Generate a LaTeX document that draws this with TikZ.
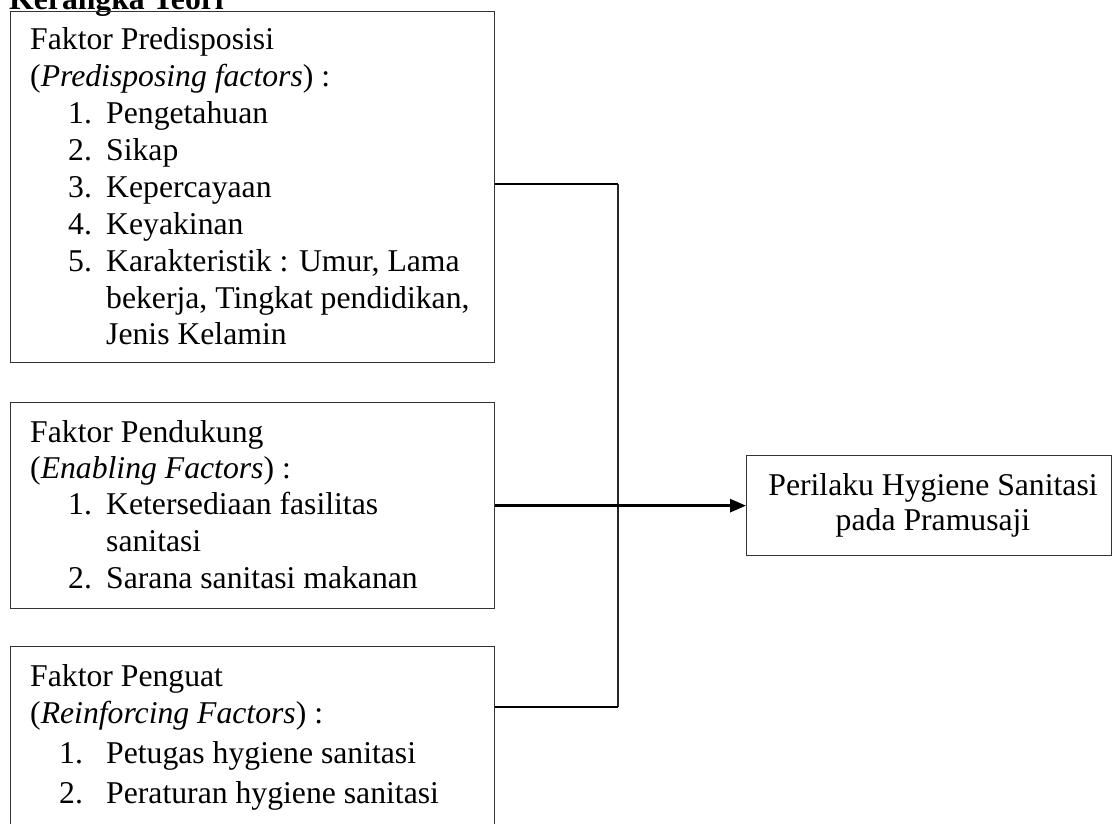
\documentclass[tikz,border=0pt]{standalone}
\usepackage{fontspec}
\setmainfont{Liberation Serif}
\usetikzlibrary{arrows.meta}
\tikzset{
  box/.style={draw=black!80, line width=1.3pt, inner sep=0pt, anchor=north west},
  txt/.style={anchor=base west, inner sep=0pt, font=\fontsize{31.7}{37}\selectfont},
  ctxt/.style={anchor=base, inner sep=0pt, font=\fontsize{31.7}{37}\selectfont},
  conn/.style={draw=black, line width=2.8pt},
  vconn/.style={draw=black!85, line width=1.8pt},
}
\begin{document}
\begin{tikzpicture}[x=1pt,y=-1pt]
\useasboundingbox (0,0) rectangle (1112,823);
\clip (0,0) rectangle (1112,823);
% title
\node[txt, font=\fontsize{31.7}{37}\selectfont\bfseries] (title) at (9,9) {Kerangka Teori};
% boxes
\node[box, minimum width=484pt, minimum height=351pt] (b1) at (10,11) {};
\node[box, minimum width=484pt, minimum height=206pt] (b2) at (10,402) {};
\node[box, minimum width=484pt, minimum height=200pt] (b3) at (10,646) {};
\node[box, minimum width=365pt, minimum height=100pt] (out) at (746,455) {};
% box 1 text
\node[txt] (t11) at (30,49) {Faktor Predisposisi};
\node[txt] (t12) at (30,86) {(\textit{Predisposing factors}) :};
\node[txt] (n13) at (68,123) {1.};
\node[txt] (t13) at (106,123) {Pengetahuan};
\node[txt] (n14) at (68,160) {2.};
\node[txt] (t14) at (106,160) {Sikap};
\node[txt] (n15) at (68,197) {3.};
\node[txt] (t15) at (106,197) {Kepercayaan};
\node[txt] (n16) at (68,234) {4.};
\node[txt] (t16) at (106,234) {Keyakinan};
\node[txt] (n17) at (68,271) {5.};
\node[txt] (t17) at (106,271) {Karakteristik : Umur, Lama};
\node[txt] (t18) at (106,308) {bekerja, Tingkat pendidikan,};
\node[txt] (t19) at (106,344) {Jenis Kelamin};
% box 2 text
\node[txt] (t21) at (30,442) {Faktor Pendukung};
\node[txt] (t22) at (30,478) {(\textit{Enabling Factors}) :};
\node[txt] (n23) at (68,514) {1.};
\node[txt] (t23) at (106,514) {Ketersediaan fasilitas};
\node[txt] (t24) at (106,551) {sanitasi};
\node[txt] (n25) at (68,588) {2.};
\node[txt] (t25) at (106,588) {Sarana sanitasi makanan};
% box 3 text
\node[txt] (t31) at (30,686) {Faktor Penguat};
\node[txt] (t32) at (30,723) {(\textit{Reinforcing Factors}) :};
\node[txt] (n33) at (59,763) {1.};
\node[txt] (t33) at (106,763) {Petugas hygiene sanitasi};
\node[txt] (n34) at (59,803) {2.};
\node[txt] (t34) at (106,803) {Peraturan hygiene sanitasi};
% output text
\node[ctxt] (o1) at (933,495) {Perilaku Hygiene Sanitasi};
\node[ctxt] (o2) at (933,530) {pada Pramusaji};
% connectors
\coordinate (j1) at (618,184);
\coordinate (j3) at (618,707);
\draw[vconn] (j1) -- (j3);
\draw[conn] (b1.east |- j1) -- (j1);
\draw[conn] (b3.east |- j3) -- (j3);
\draw[conn, -{Triangle[length=16pt,width=13pt]}] (b2.east) -- (out.west);
\end{tikzpicture}
\end{document}
